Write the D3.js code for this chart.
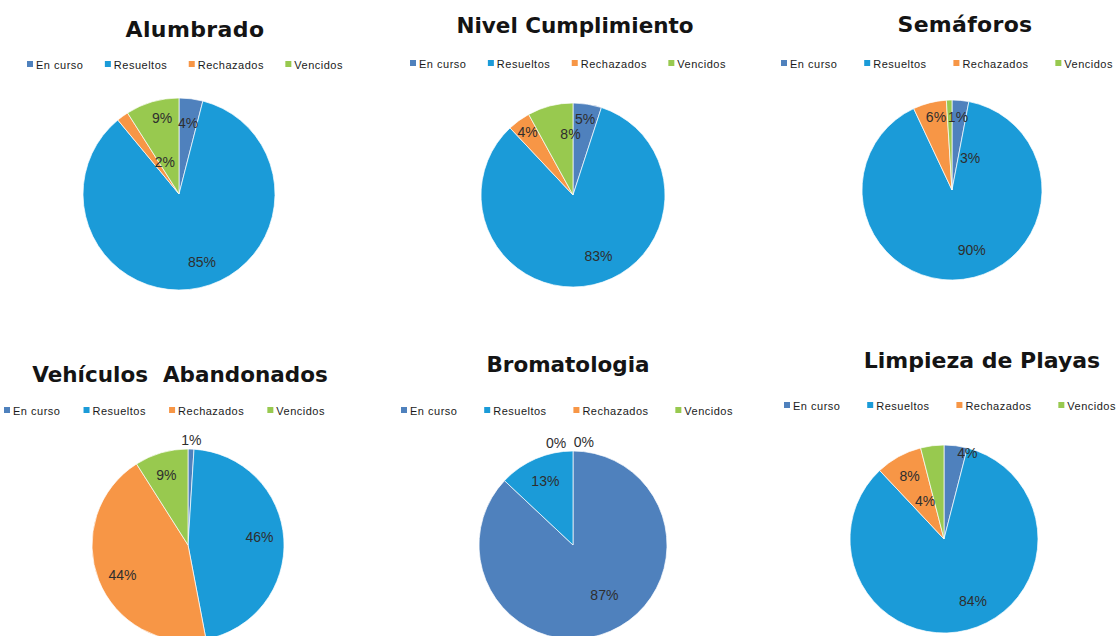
<!DOCTYPE html>
<html>
<head>
<meta charset="utf-8">
<script src="https://cdn.jsdelivr.net/npm/d3@7"></script>
<style>
  html, body { margin: 0; padding: 0; background: #fff; }
  svg { display: block; }
</style>
</head>
<body>
<svg id="chart" width="1118" height="636"></svg>
<script>
// ---------- DATA ----------
const categories = ["En curso", "Resueltos", "Rechazados", "Vencidos"];
const chartTitles = ["Alumbrado", "Nivel Cumplimiento", "Semáforos", "Vehículos  Abandonados", "Bromatologia", "Limpieza de Playas"];
const alumbrado = [4, 85, 2, 9];
const nivelCumplimiento = [5, 83, 4, 8];
const semaforos = [3, 90, 6, 1];
const vehiculosAbandonados = [1, 46, 44, 9];
const bromatologia = [87, 13, 0, 0];
const limpiezaPlayas = [4, 84, 8, 4];
const seriesValues = [alumbrado, nivelCumplimiento, semaforos, vehiculosAbandonados, bromatologia, limpiezaPlayas];

// ---------- STYLE / LAYOUT ----------
const colors = ["#4f81bd", "#1b9bd8", "#f79646", "#98c94f"];
const layout = [
  { cx: 179, cy: 194, r: 96, tx: 195, ty: 37, fs: 22, ls: 0.4, lx0: 27, lx1: 343, ly: 64,
    labelR: [0.75, 0.75, 0.36, 0.81], labelDA: [0, -6, 12, 3.6] },
  { cx: 573, cy: 195, r: 92, tx: 575, ty: 33, fs: 21.5, ls: 0, lx0: 410, lx1: 726, ly: 63,
    labelR: [0.84, 0.72, 0.84, 0.66], labelDA: [0, -10, 0, 12] },
  { cx: 952, cy: 190, r: 90, tx: 965, ty: 32, fs: 22, ls: 0.3, lx0: 781, lx1: 1113, ly: 63,
    labelR: [0.41, 0.70, 0.83, 0.81], labelDA: [24, -11, 2, 6.5] },
  { cx: 188, cy: 545, r: 96, tx: 180, ty: 382, fs: 21.5, ls: 0, lx0: 4, lx1: 325, ly: 410,
    labelR: [1.09, 0.75, 0.75, 0.76], labelDA: [0, -2.7, -3, -1] },
  { cx: 573, cy: 545, r: 94, tx: 568, ty: 372, fs: 21.5, ls: 0, lx0: 401, lx1: 733, ly: 410,
    labelR: [0.63, 0.74, 1.1, 1.1], labelDA: [-8.6, 0, -9.4, 6] },
  { cx: 944, cy: 539, r: 94, tx: 982, ty: 368, fs: 22, ls: 0, lx0: 784, lx1: 1116, ly: 405,
    labelR: [0.95, 0.73, 0.76, 0.45], labelDA: [8, -10.6, 0, -19.4] }
];

const svg = d3.select("#chart");
const pie = d3.pie().sort(null).value(d => d).startAngle(0).endAngle(2 * Math.PI);
const color = d3.scaleOrdinal().domain(categories).range(colors);

seriesValues.forEach((vals, i) => {
  const L = layout[i];
  const g = svg.append("g");

  // Title
  g.append("text")
    .attr("x", L.tx).attr("y", L.ty)
    .attr("text-anchor", "middle")
    .style("white-space", "pre")
    .attr("font-family", "DejaVu Sans, Verdana, sans-serif")
    .attr("font-weight", "bold")
    .attr("font-size", L.fs)
    .attr("letter-spacing", L.ls)
    .attr("fill", "#141414")
    .text(chartTitles[i]);

  // Legend
  const lg = g.append("g");
  const items = lg.selectAll("g").data(categories).join("g");
  items.append("rect")
    .attr("width", 6).attr("height", 6)
    .attr("y", L.ly - 3)
    .attr("fill", d => color(d));
  const texts = items.append("text")
    .attr("x", 9).attr("y", L.ly + 4.5)
    .attr("font-family", "Liberation Sans, Arial, sans-serif")
    .attr("font-size", 11)
    .attr("letter-spacing", 0.5)
    .attr("fill", "#1a1a1a")
    .text(d => d);
  const widths = texts.nodes().map(n => n.getComputedTextLength() + 9);
  const total = d3.sum(widths);
  const gap = (L.lx1 - L.lx0 - total) / (categories.length - 1);
  let xpos = L.lx0;
  items.each(function(d, k) {
    d3.select(this).attr("transform", `translate(${xpos},0)`);
    xpos += widths[k] + gap;
  });

  // Pie
  const arcs = pie(vals);
  const arc = d3.arc().innerRadius(0).outerRadius(L.r);
  const pg = g.append("g").attr("transform", `translate(${L.cx},${L.cy})`);
  pg.selectAll("path").data(arcs.filter(a => a.value > 0)).join("path")
    .attr("d", arc)
    .attr("fill", d => color(categories[d.index]))
    .attr("stroke", "#ffffff")
    .attr("stroke-width", 0.7);

  // Labels
  pg.selectAll("text.lbl").data(arcs).join("text")
    .attr("class", "lbl")
    .attr("x", d => {
      const a = (d.startAngle + d.endAngle) / 2 + L.labelDA[d.index] * Math.PI / 180;
      return Math.sin(a) * L.r * L.labelR[d.index];
    })
    .attr("y", d => {
      const a = (d.startAngle + d.endAngle) / 2 + L.labelDA[d.index] * Math.PI / 180;
      return -Math.cos(a) * L.r * L.labelR[d.index];
    })
    .attr("text-anchor", "middle")
    .attr("dominant-baseline", "central")
    .attr("font-family", "Liberation Sans, Arial, sans-serif")
    .attr("font-size", 14)
    .attr("fill", "#2e2e2e")
    .text(d => d.value + "%");
});
</script>
</body>
</html>
